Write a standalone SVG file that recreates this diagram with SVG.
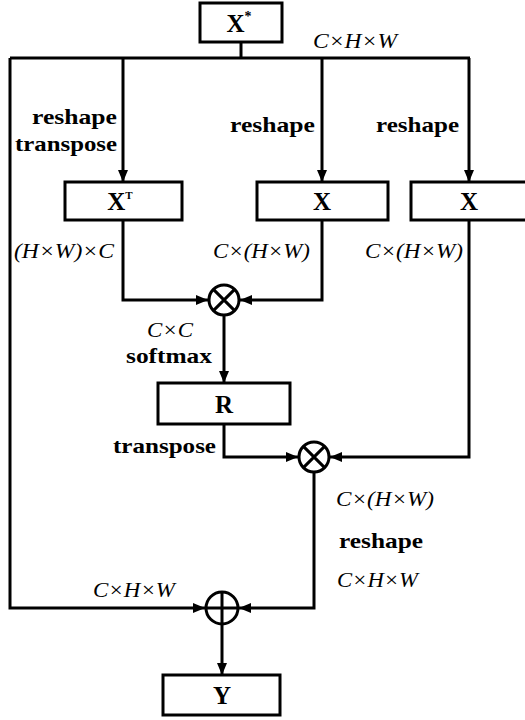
<svg xmlns="http://www.w3.org/2000/svg" width="525" height="720" viewBox="0 0 525 720">
<defs>
<style>
.box{fill:#fff;stroke:#000;stroke-width:3}
.ln{fill:none;stroke:#000;stroke-width:3}
text{font-family:"Liberation Serif","DejaVu Serif","Noto Serif",serif;fill:#000}
.bl{font-weight:bold;font-size:21px}
.it{font-style:italic;font-size:21px}
.nm{font-weight:bold;font-size:25px;text-anchor:middle}
</style>
<marker id="ar" viewBox="0 0 12 10" refX="12" refY="5" markerWidth="12" markerHeight="10" markerUnits="userSpaceOnUse" orient="auto">
<path d="M0,0 L12,5 L0,10 Z" fill="#000"/>
</marker>
</defs>
<g id="connectors">
<path class="ln" d="M241,42 V58"/>
<path class="ln" d="M10,58 H470"/>
<path class="ln" d="M123,58 V182" marker-end="url(#ar)"/>
<path class="ln" d="M322,58 V182" marker-end="url(#ar)"/>
<path class="ln" d="M469,58 V182" marker-end="url(#ar)"/>
<path class="ln" d="M123,221 V300 H208" marker-end="url(#ar)"/>
<path class="ln" d="M322,221 V300 H240" marker-end="url(#ar)"/>
<path class="ln" d="M224,316 V383" marker-end="url(#ar)"/>
<path class="ln" d="M224,424 V457 H298" marker-end="url(#ar)"/>
<path class="ln" d="M469,221 V457 H330" marker-end="url(#ar)"/>
<path class="ln" d="M314,473 V608 H239" marker-end="url(#ar)"/>
<path class="ln" d="M10,58 V608 H205" marker-end="url(#ar)"/>
<path class="ln" d="M222,625 V675" marker-end="url(#ar)"/>
</g>
<g id="node-xstar">
<rect class="box" x="200" y="3" width="82" height="39"/>
<text class="nm" x="239" y="32">X<tspan font-size="14" dy="-11">*</tspan></text>
</g>
<g id="node-xt">
<rect class="box" x="65" y="182" width="117" height="38"/>
<text class="nm" x="120" y="210">X<tspan font-size="11" dy="-11">T</tspan></text>
</g>
<g id="node-x1">
<rect class="box" x="257" y="182" width="131" height="38"/>
<text class="nm" x="322" y="210">X</text>
</g>
<g id="node-x2">
<rect class="box" x="411" y="182" width="125" height="38"/>
<text class="nm" x="469" y="210">X</text>
</g>
<g id="node-mul1">
<circle class="box" cx="224" cy="300" r="15"/>
<path class="ln" d="M213.4,289.4 L234.6,310.6 M234.6,289.4 L213.4,310.6"/>
</g>
<g id="node-r">
<rect class="box" x="158" y="383" width="132" height="41"/>
<text class="nm" x="224" y="413">R</text>
</g>
<g id="node-mul2">
<circle class="box" cx="314" cy="457" r="15"/>
<path class="ln" d="M303.4,446.4 L324.6,467.6 M324.6,446.4 L303.4,467.6"/>
</g>
<g id="node-add">
<circle class="box" cx="222" cy="608" r="16"/>
<path class="ln" d="M206,608 H238 M222,592 V624"/>
</g>
<g id="node-y">
<rect class="box" x="163" y="675" width="117" height="40"/>
<text class="nm" x="222" y="704">Y</text>
</g>
<g id="labels">
<text class="it" x="313" y="48" textLength="84" lengthAdjust="spacingAndGlyphs">C×H×W</text>
<text class="bl" x="32" y="124" textLength="85" lengthAdjust="spacingAndGlyphs">reshape</text>
<text class="bl" x="15" y="151" textLength="102" lengthAdjust="spacingAndGlyphs">transpose</text>
<text class="bl" x="230" y="132" textLength="85" lengthAdjust="spacingAndGlyphs">reshape</text>
<text class="bl" x="376" y="132" textLength="83" lengthAdjust="spacingAndGlyphs">reshape</text>
<text class="it" x="14" y="258" textLength="100" lengthAdjust="spacingAndGlyphs">(H×W)×C</text>
<text class="it" x="213" y="258" textLength="97" lengthAdjust="spacingAndGlyphs">C×(H×W)</text>
<text class="it" x="365" y="258" textLength="98" lengthAdjust="spacingAndGlyphs">C×(H×W)</text>
<text class="it" x="147" y="337" textLength="46" lengthAdjust="spacingAndGlyphs">C×C</text>
<text class="bl" x="126" y="363" textLength="86" lengthAdjust="spacingAndGlyphs">softmax</text>
<text class="bl" x="113" y="453" textLength="103" lengthAdjust="spacingAndGlyphs">transpose</text>
<text class="it" x="336" y="506" textLength="98" lengthAdjust="spacingAndGlyphs">C×(H×W)</text>
<text class="bl" x="339" y="548" textLength="84" lengthAdjust="spacingAndGlyphs">reshape</text>
<text class="it" x="337" y="587" textLength="81" lengthAdjust="spacingAndGlyphs">C×H×W</text>
<text class="it" x="93" y="597" textLength="82" lengthAdjust="spacingAndGlyphs">C×H×W</text>
</g>
</svg>
